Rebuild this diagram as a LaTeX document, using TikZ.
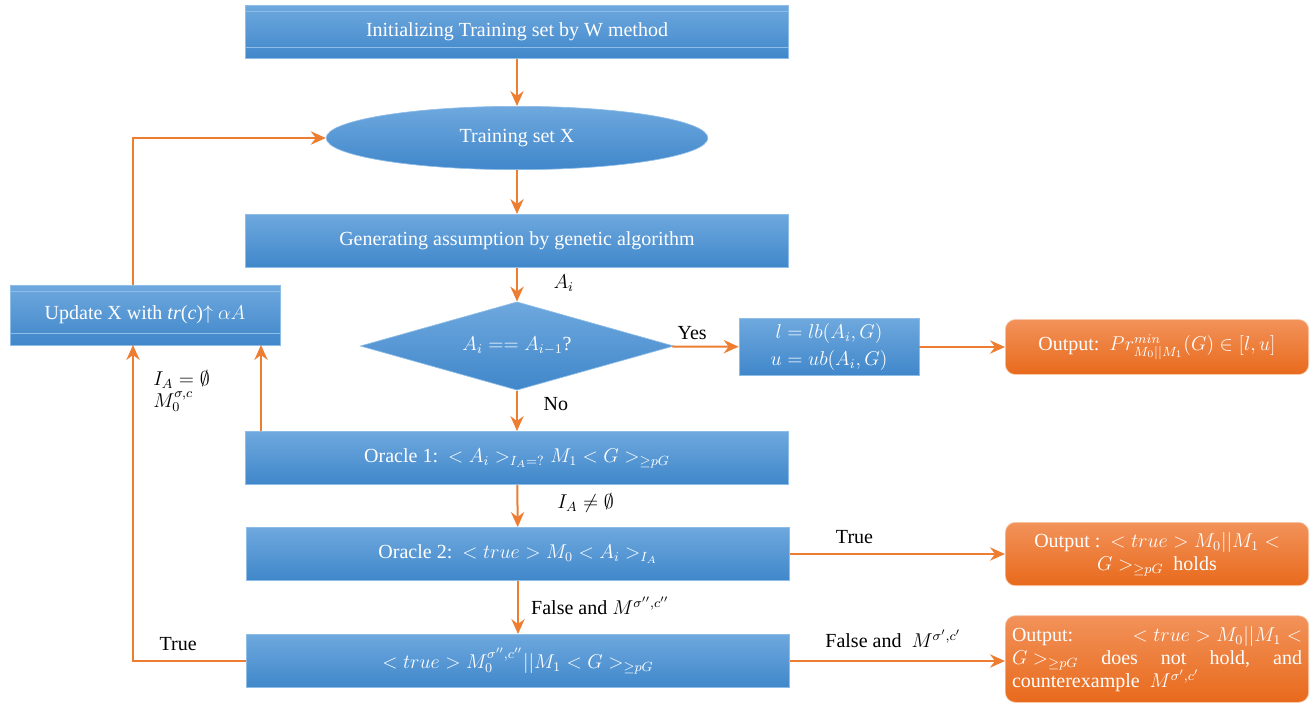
\documentclass[tikz,border=0pt]{standalone}
\usepackage{fontspec}
\setmainfont{Liberation Serif}
\usetikzlibrary{shapes.geometric,arrows.meta}
\definecolor{boxtop}{HTML}{6EA8DE}
\definecolor{boxbot}{HTML}{4087CA}
\definecolor{boxline}{HTML}{8EBDE8}
\definecolor{flow}{HTML}{ED7D31}
\definecolor{outtop}{HTML}{F2925A}
\definecolor{outbot}{HTML}{E86A1C}
\begin{document}
\begin{tikzpicture}[x=0.6pt,y=-0.6pt]

    \tikzset{
      procbox/.style={
        rectangle,
        top color=boxtop,
        bottom color=boxbot,
        draw=boxline,
        text=white,
        inner sep=2pt,
        minimum width=326pt,
        minimum height=32pt,
        font=\fontsize{12}{15}\selectfont,
      },
      bevel/.style={
        path picture={
          \draw[boxline,line width=0.6pt] ([yshift=-3.6pt]path picture bounding box.north west) -- ([yshift=-3.6pt]path picture bounding box.north east);
          \draw[boxline,line width=0.6pt] ([yshift=7pt]path picture bounding box.south west) -- ([yshift=7pt]path picture bounding box.south east);
        },
      },
      outbox/.style={
        rectangle,
        rounded corners=6pt,
        top color=outtop,
        bottom color=outbot,
        draw=outtop!50!white,
        text=white,
        minimum width=182pt,
        align=center,
        font=\fontsize{12}{15}\selectfont,
      },
      flowarrow/.style={
        draw=flow,
        line width=1.2pt,
        -{Stealth[length=9pt,width=8pt,inset=3pt]},
      },
      flowlabel/.style={
        text=black,
        font=\fontsize{12}{15}\selectfont,
      },
    }
    \useasboundingbox (0,0) rectangle (1315,703);

    \node[procbox,bevel] (init) at (517,32) {Initializing Training set by W method};
    \node[procbox,ellipse,minimum width=229pt,minimum height=38pt,inner sep=0pt,draw=boxline] (trainset) at (517,138) {Training set X};
    \node[procbox] (gen) at (517,241) {Generating assumption by genetic algorithm};
    \node[procbox,diamond,aspect=3.5,minimum width=188pt,minimum height=53pt,inner sep=0pt] (check) at (517,346) {$A_i == A_{i-1}$?};
    \node[procbox,minimum width=108pt,minimum height=34pt,align=center,font=\fontsize{12}{16}\selectfont] (bounds) at (829,347) {$l=lb(A_i,G)$\\$u=ub(A_i,G)$};
    \node[outbox,minimum height=33pt] (out1) at (1157,347) {Output:\ \ $Pr^{min}_{M_0||M_1}(G)\in[l,u]$};
    \node[procbox] (oracle1) at (517,458) {Oracle 1:\ \ $<A_i>_{I_A=?}M_1<G>_{\geq pG}$};
    \node[procbox] (oracle2) at (518,554) {Oracle 2:\ \ $<true>M_0<A_i>_{I_A}$};
    \node[outbox,minimum height=38pt,font=\fontsize{12}{14}\selectfont] (out2) at (1157,554) {Output :\ \ $<true>M_0||M_1<$\\$G>_{\geq pG}$\ \ holds};
    \node[procbox] (verify) at (518,661) {$<true>M_0^{\sigma'',c''}||M_1<G>_{\geq pG}$};
    \node[outbox,minimum height=52pt,inner sep=3pt,align=left,font=\fontsize{12}{14}\selectfont] (out3) at (1157,659)
      {\makebox[174pt][l]{Output:\hfill$<true>M_0||M_1<$}\\
       \makebox[174pt][l]{$G>_{\geq pG}$\hfill does\hfill not\hfill hold,\hfill and}\\
       \makebox[174pt][l]{counterexample\ \ $M^{\sigma',c'}$}};
    \node[procbox,bevel,minimum width=162pt,minimum height=36pt] (update) at (145,315) {Update X with \textit{tr}(\textit{c})$\uparrow$ $\alpha A$};

    \coordinate (upL) at (133,345);
    \coordinate (upR) at (261,345);

    \draw[flowarrow] (init) -- (trainset);
    \draw[flowarrow] (trainset) -- (gen);
    \draw[flowarrow] (gen) -- node[flowlabel,right,xshift=18pt,yshift=1pt] {$A_i$} (check);
    \draw[flowarrow] (check) -- node[flowlabel,above,pos=0.3] {Yes} (bounds);
    \draw[flowarrow] (bounds) -- (out1);
    \draw[flowarrow] (check) -- node[flowlabel,right,xshift=12pt,yshift=4pt] {No} (oracle1);
    \draw[flowarrow] (oracle1) -- node[flowlabel,right,xshift=20pt,yshift=2pt] {$I_A\neq\emptyset$} (oracle2);
    \draw[flowarrow] (oracle2) -- node[flowlabel,above,pos=0.3,yshift=2pt] {True} (out2);
    \draw[flowarrow] (oracle2) -- node[flowlabel,right,xshift=4pt,yshift=1pt] {False and $M^{\sigma'',c''}$} (verify);
    \draw[flowarrow] (verify) -- node[flowlabel,above,pos=0.48,yshift=4pt] {False and\ \ $M^{\sigma',c'}$} (out3.west |- verify);
    \draw[flowarrow] (verify.west) -- node[flowlabel,above,pos=0.6,yshift=2pt] {True} (133,661) -- (upL);
    \draw[flowarrow] (upR |- oracle1.north) -- (upR);
    \draw[flowarrow] (update.north -| upL) |- (trainset.west);

    \node[flowlabel,align=left,anchor=north west,inner sep=0pt] (emptylabel) at (153,370) {$I_A=\emptyset$\\[-2pt]$M_0^{\sigma,c}$};

\end{tikzpicture}
\end{document}
